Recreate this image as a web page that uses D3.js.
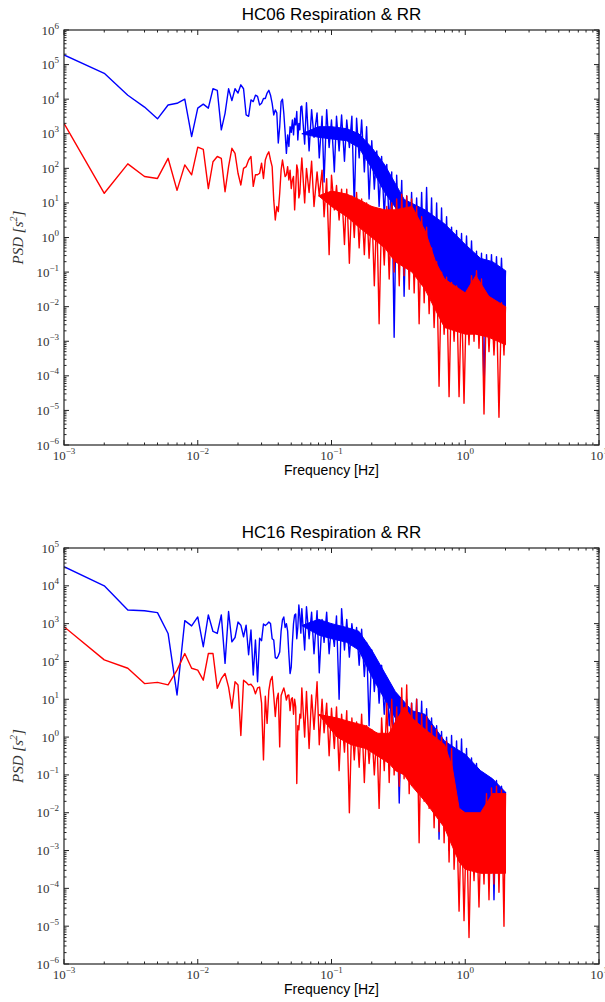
<!DOCTYPE html>
<html><head><meta charset="utf-8">
<script src="https://cdn.jsdelivr.net/npm/d3@7"></script>
<style>body{margin:0;background:#fff}svg{display:block}</style>
</head><body><svg id="chart" width="605" height="1002"></svg>
<script>
// ---------- data (PSD values) ----------
const binStep = 0.001; // Hz, low-frequency bins are k * 0.001 Hz
const xTickExps = [-3, -2, -1, 0, 1];

// dense part: shared frequency nodes (Hz)
const denseFreq = [0.060,0.063,0.065,0.068,0.071,0.074,0.078,0.081,0.085,0.088,
0.092,0.096,0.100,0.105,0.109,0.114,0.119,0.125,0.130,0.136,
0.142,0.148,0.154,0.161,0.168,0.176,0.183,0.191,0.200,0.209,
0.218,0.227,0.237,0.248,0.259,0.270,0.282,0.294,0.307,0.321,
0.335,0.349,0.365,0.381,0.397,0.415,0.433,0.452,0.472,0.493,
0.514,0.537,0.560,0.585,0.611,0.637,0.665,0.695,0.725,0.757,
0.790,0.825,0.861,0.899,0.938,0.979,1.022,1.067,1.114,1.163,
1.214,1.267,1.323,1.381,1.442,1.505,1.571,1.640,1.712,1.787,
1.866,1.948,2.000];

// HC06 respiration (blue)
const hc06RespLow = [1.9e5,5.6e4,1.3e4,5.9e3,2.7e3,6.8e3,7.6e3,1.0e4,8.3e2,5.5e3,
7.2e3,5.5e3,2.0e4,1.8e4,1.3e3,3.9e3,2.0e4,9.1e3,2.0e4,1.5e4,
2.6e4,2.0e4,3.5e3,3.2e3,9.5e3,8.5e3,1.3e4,1.2e4,6.8e3,7.6e3,
1.05e4,1.05e4,1.5e4,1.8e4,1.3e4,7.6e3,3.5e3,4.9e3,4.0e3,5.4e2,
1.6e3,8.5e3,1.0e4,3.9e3,1.1e3,2.7e2,9.3e2,4.3e2,1.6e3,1.1e3,
2.5e3,9.3e2,2.8e3,1.8e3,4.4e3,6.6e2,2.0e3,1.3e3,6.0e3];
const hc06RespDense = [6.3e3,5.0e2,7.9e3,3.2e2,5.0e3,7.9e2,4.0e3,2.0e2,3.2e3,40,
5.0e3,4.0e2,2.5e3,79,3.2e3,3.2e2,3.5e3,1.6e2,2.5e3,4.0e2,
3.2e3,7.9,2.8e3,2.0e2,2.5e3,79,1.6e3,13,6.3e2,25,
3.2e2,7.9,2.2e2,4.0,1.3e2,2.0,79,1.3e-3,63,0.5,
45,0.02,16,0.2,20,0.13,14,0.079,20,0.063,
28,0.04,14,0.025,10,0.016,7.1,0.016,4.0,0.013,
2.0,0.013,1.6,0.01,1.3,0.01,1.1,0.01,0.79,6.3e-3,
0.4,5.0e-3,0.35,3.2e-5,0.32,5.0e-3,0.32,4.0e-3,0.28,4.0e-3,
0.25,3.2e-3,0.11];
const hc06RespCoreF = [0.06,0.08,0.1,0.13,0.16,0.2,0.25,0.35,0.5,0.7,1.0,1.3,1.6,2.0];
const hc06RespCoreHi = [1.0e3,1.6e3,1.6e3,1.4e3,1.0e3,400,126,12.6,6.3,2.5,0.63,0.25,0.2,0.11];
const hc06RespCoreLo = [1.0e3,790,710,630,400,100,20,3.2,0.32,0.063,0.025,0.016,0.013,0.01];

// HC06 RR (red)
const hc06RRLow = [2.0e3,19,135,58,51,195,23,126,65,410,
355,26,155,220,195,21,112,380,270,72,
33,100,112,174,220,30,65,65,72,141,
51,174,245,300,174,112,12,3.2,7.9,5.6,
19,89,174,100,58,65,112,46,89,26,
46,58,6.3,24,126,89,14,19,72];
const hc06RRDense = [200,10,100,20,160,7.9,79,16,89,4.0,
50,0.32,63,6.3,32,3.2,25,0.63,25,0.18,
16,1.0,20,0.5,13,0.32,10,0.25,7.9,0.04,
6.3,3.2e-3,5.0,0.16,7.9,0.063,10,0.1,13,0.04,
18,0.079,16,0.032,13,0.025,7.9,3.2e-3,4.0,0.013,
2.0,6.3e-3,0.5,2.5e-3,0.2,5.0e-5,0.1,1.6e-3,0.071,2.5e-5,
0.05,1.0e-3,0.04,2.5e-5,0.025,1.6e-5,0.025,7.9e-4,0.079,1.0e-3,
0.11,6.3e-4,0.063,7.9e-6,0.022,5.0e-4,0.016,4.0e-4,0.013,6.3e-6,
0.013,4.0e-4,0.01];
const hc06RRCoreF = [0.08,0.1,0.13,0.16,0.2,0.25,0.3,0.4,0.5,0.6,0.7,1.0,1.2,1.5,2.0];
const hc06RRCoreHi = [16,22,18,12.6,7.9,6.3,6.3,7.9,1.6,0.2,0.063,0.025,0.079,0.02,0.01];
const hc06RRCoreLo = [16,7.9,4.0,2.0,1.0,0.5,0.2,0.1,0.032,7.9e-3,2.5e-3,1.6e-3,1.6e-3,1.3e-3,7.9e-4];

// HC16 respiration (blue)
const hc16RespLow = [3.2e4,1.0e4,2.3e3,2.2e3,1.95e3,550,13,1.2e3,870,1.5e3,
245,1.7e3,620,550,1.7e3,89,2.1e3,330,430,1.1e3,
910,450,910,150,680,44,370,29,410,355,
980,890,980,1.1e3,1.0e3,400,370,126,120,141,
178,630,1.26e3,1.5e3,790,1.0e3,630,158,48,71,
316,1.0e3,1.7e3,1.8e3,400,790,3.1e3,1.6e3,560];
const hc16RespDense = [2.5e3,200,2.8e3,400,2.0e3,160,2.2e3,50,1.3e3,320,
2.0e3,160,1.0e3,250,1.6e3,10,2.5e3,200,1.3e3,130,
1.0e3,250,790,79,710,40,320,2.0,200,16,
100,7.9,79,4.0,32,2.0,16,0.63,7.1,0.018,
7.9,0.25,10,0.16,7.9,0.1,10,0.079,8.9,0.063,
5.6,0.04,3.2,0.025,2.0,2.0e-3,1.4,0.016,1.0,1.0e-3,
1.1,0.01,0.79,7.9e-3,0.89,6.3e-3,0.5,6.3e-3,0.28,5.0e-3,
0.2,5.0e-3,0.1,5.0e-3,0.089,6.3e-3,0.079,5.0e-5,0.071,7.9e-3,
0.05,0.01,0.035];
const hc16RespCoreF = [0.06,0.08,0.1,0.13,0.16,0.2,0.25,0.3,0.4,0.5,0.7,0.85,1.0,1.3,1.6,2.0];
const hc16RespCoreHi = [890,1.3e3,1.0e3,790,630,200,50,16,5.0,4.0,0.79,0.5,0.35,0.13,0.079,0.035];
const hc16RespCoreLo = [890,500,400,320,200,40,10,3.2,1.6,0.25,0.05,0.016,0.01,7.9e-3,0.01,0.01];

// HC16 RR (red)
const hc16RRLow = [830,110,66,26,28,24,59,162,66,59,
32,162,162,19.5,35,48,21,5.8,29,24,
1.1,32,28,24,25,21,14,20,21,7.9,
0.25,12,2.3,17,32,40,12.6,3.5,10,14.5,
0.55,12.6,16,20,14.5,9.5,12.6,13,5.0,10,
11,4.0,10,6.3,0.059,2.0,1.55,4.0,3.2];
const hc16RRDense = [20,1.0,16,0.5,13,1.6,29,0.63,10,1.3,
7.9,0.32,5.8,0.5,6.3,0.13,4.0,0.4,5.0,0.01,
3.2,0.25,2.5,0.16,4.0,0.063,2.0,0.2,1.6,0.1,
1.3,0.013,3.2,0.13,7.9,0.063,10,0.1,6.3,0.05,
20,0.079,24,0.032,7.9,0.05,10,1.6e-3,4.0,0.02,
3.5,0.013,2.0,4.0e-3,1.6,3.2e-3,1.0,1.6e-3,0.79,5.0e-4,
0.5,3.2e-4,0.013,2.5e-5,0.01,1.4e-5,7.9e-3,5.0e-6,6.3e-3,1.6e-4,
7.9e-3,3.2e-5,0.01,1.3e-4,0.032,5.0e-5,0.045,1.3e-4,0.05,7.9e-5,
0.04,1.0e-5,0.032];
const hc16RRCoreF = [0.08,0.11,0.14,0.18,0.22,0.27,0.3,0.35,0.4,0.5,0.7,0.8,0.9,1.0,1.3,1.6,2.0];
const hc16RRCoreHi = [4.0,3.2,2.5,2.0,1.26,1.26,2.5,6.3,3.2,1.6,0.63,0.16,0.013,0.01,0.01,0.032,0.032];
const hc16RRCoreLo = [4.0,1.0,0.63,0.5,0.32,0.2,0.13,0.1,0.05,0.02,4.0e-3,1.3e-3,5.0e-4,3.2e-4,2.5e-4,2.5e-4,2.5e-4];

// ---------- drawing ----------
const BLUE = "#0000ff", RED = "#ff0000";
const svg = d3.select("#chart");
const X0 = 64, X1 = 599;

const panels = [
  {title: "HC06 Respiration & RR", top: 30, bottom: 445, yMinExp: -6, yMaxExp: 6,
   series: [
     {color: BLUE, low: hc06RespLow, dense: hc06RespDense, cF: hc06RespCoreF, cHi: hc06RespCoreHi, cLo: hc06RespCoreLo},
     {color: RED, low: hc06RRLow, dense: hc06RRDense, cF: hc06RRCoreF, cHi: hc06RRCoreHi, cLo: hc06RRCoreLo}]},
  {title: "HC16 Respiration & RR", top: 548, bottom: 964, yMinExp: -6, yMaxExp: 5,
   series: [
     {color: BLUE, low: hc16RespLow, dense: hc16RespDense, cF: hc16RespCoreF, cHi: hc16RespCoreHi, cLo: hc16RespCoreLo},
     {color: RED, low: hc16RRLow, dense: hc16RRDense, cF: hc16RRCoreF, cHi: hc16RRCoreHi, cLo: hc16RRCoreLo}]}
];

const labelFont = "'Liberation Serif', 'DejaVu Serif', serif";
const sansFont = "'Liberation Sans', Arial, sans-serif";
const minus = e => (e < 0 ? "\u2212" + Math.abs(e) : String(e));

panels.forEach((p, pi) => {
  const x = d3.scaleLog().domain([1e-3, 1e1]).range([X0, X1]);
  const y = d3.scaleLog().domain([Math.pow(10, p.yMinExp), Math.pow(10, p.yMaxExp)]).range([p.bottom, p.top]);
  const g = svg.append("g");
  const clipId = "clip" + pi;
  g.append("clipPath").attr("id", clipId).append("rect")
    .attr("x", X0).attr("y", p.top).attr("width", X1 - X0).attr("height", p.bottom - p.top);
  const plot = g.append("g").attr("clip-path", `url(#${clipId})`);

  p.series.forEach(s => {
    const core = s.cF.map((f, i) => ({f, hi: s.cHi[i], lo: s.cLo[i]}));
    plot.append("path")
      .attr("d", d3.area().x(d => x(d.f)).y0(d => y(d.lo)).y1(d => y(d.hi))(core))
      .attr("fill", s.color).attr("stroke", s.color).attr("stroke-width", 1).attr("stroke-linejoin", "round");
    const pts = s.low.map((v, i) => [(i + 1) * binStep, v])
      .concat(denseFreq.map((f, i) => [f, s.dense[i]]));
    plot.append("path")
      .attr("d", d3.line().x(d => x(d[0])).y(d => y(d[1]))(pts))
      .attr("fill", "none").attr("stroke", s.color).attr("stroke-width", 1.4)
      .attr("stroke-linejoin", "round");
  });

  g.append("rect").attr("x", X0).attr("y", p.top).attr("width", X1 - X0).attr("height", p.bottom - p.top)
    .attr("fill", "none").attr("stroke", "#222").attr("stroke-width", 1.2);

  const tk = g.append("g").attr("stroke", "#222").attr("stroke-width", 1);
  for (let e = -3; e <= 1; e++) {
    for (let m = 1; m <= 9; m++) {
      const f = m * Math.pow(10, e);
      if (f > 10) break;
      const xx = x(f), len = m === 1 ? 5 : 2.5;
      tk.append("line").attr("x1", xx).attr("x2", xx).attr("y1", p.bottom).attr("y2", p.bottom - len);
      tk.append("line").attr("x1", xx).attr("x2", xx).attr("y1", p.top).attr("y2", p.top + len);
    }
  }
  for (let e = p.yMinExp; e <= p.yMaxExp; e++) {
    for (let m = 1; m <= 9; m++) {
      if (e === p.yMaxExp && m > 1) break;
      const v = m * Math.pow(10, e);
      const yy = y(v), len = m === 1 ? 5 : 2.5;
      tk.append("line").attr("x1", X0).attr("x2", X0 + len).attr("y1", yy).attr("y2", yy);
      tk.append("line").attr("x1", X1).attr("x2", X1 - len).attr("y1", yy).attr("y2", yy);
    }
  }

  xTickExps.forEach(e => {
    const t = g.append("text").attr("x", x(Math.pow(10, e))).attr("y", p.bottom + 15)
      .attr("text-anchor", "middle").attr("font-family", labelFont).attr("font-size", 13).attr("fill", "#333");
    t.append("tspan").text("10");
    t.append("tspan").attr("font-size", 9).attr("dy", -6).text(minus(e));
  });
  for (let e = p.yMinExp; e <= p.yMaxExp; e++) {
    const t = g.append("text").attr("x", X0 - 5).attr("y", y(Math.pow(10, e)) + 4.5)
      .attr("text-anchor", "end").attr("font-family", labelFont).attr("font-size", 13).attr("fill", "#333");
    t.append("tspan").text("10");
    t.append("tspan").attr("font-size", 9).attr("dy", -6).text(minus(e));
  }

  g.append("text").attr("x", (X0 + X1) / 2).attr("y", p.top - 10).attr("text-anchor", "middle")
    .attr("font-family", sansFont).attr("font-size", 17).attr("fill", "#000").text(p.title);
  g.append("text").attr("x", (X0 + X1) / 2).attr("y", p.bottom + 30).attr("text-anchor", "middle")
    .attr("font-family", sansFont).attr("font-size", 14).attr("fill", "#000").text("Frequency [Hz]");
  const yl = g.append("text").attr("transform", `translate(23,${(p.top + p.bottom) / 2}) rotate(-90)`)
    .attr("text-anchor", "middle").attr("font-family", labelFont).attr("font-size", 15)
    .attr("font-style", "italic").attr("fill", "#333");
  yl.append("tspan").text("PSD [s");
  yl.append("tspan").attr("font-size", 10).attr("dy", -6).text("2");
  yl.append("tspan").attr("dy", 6).text("]");
});
</script></body></html>
